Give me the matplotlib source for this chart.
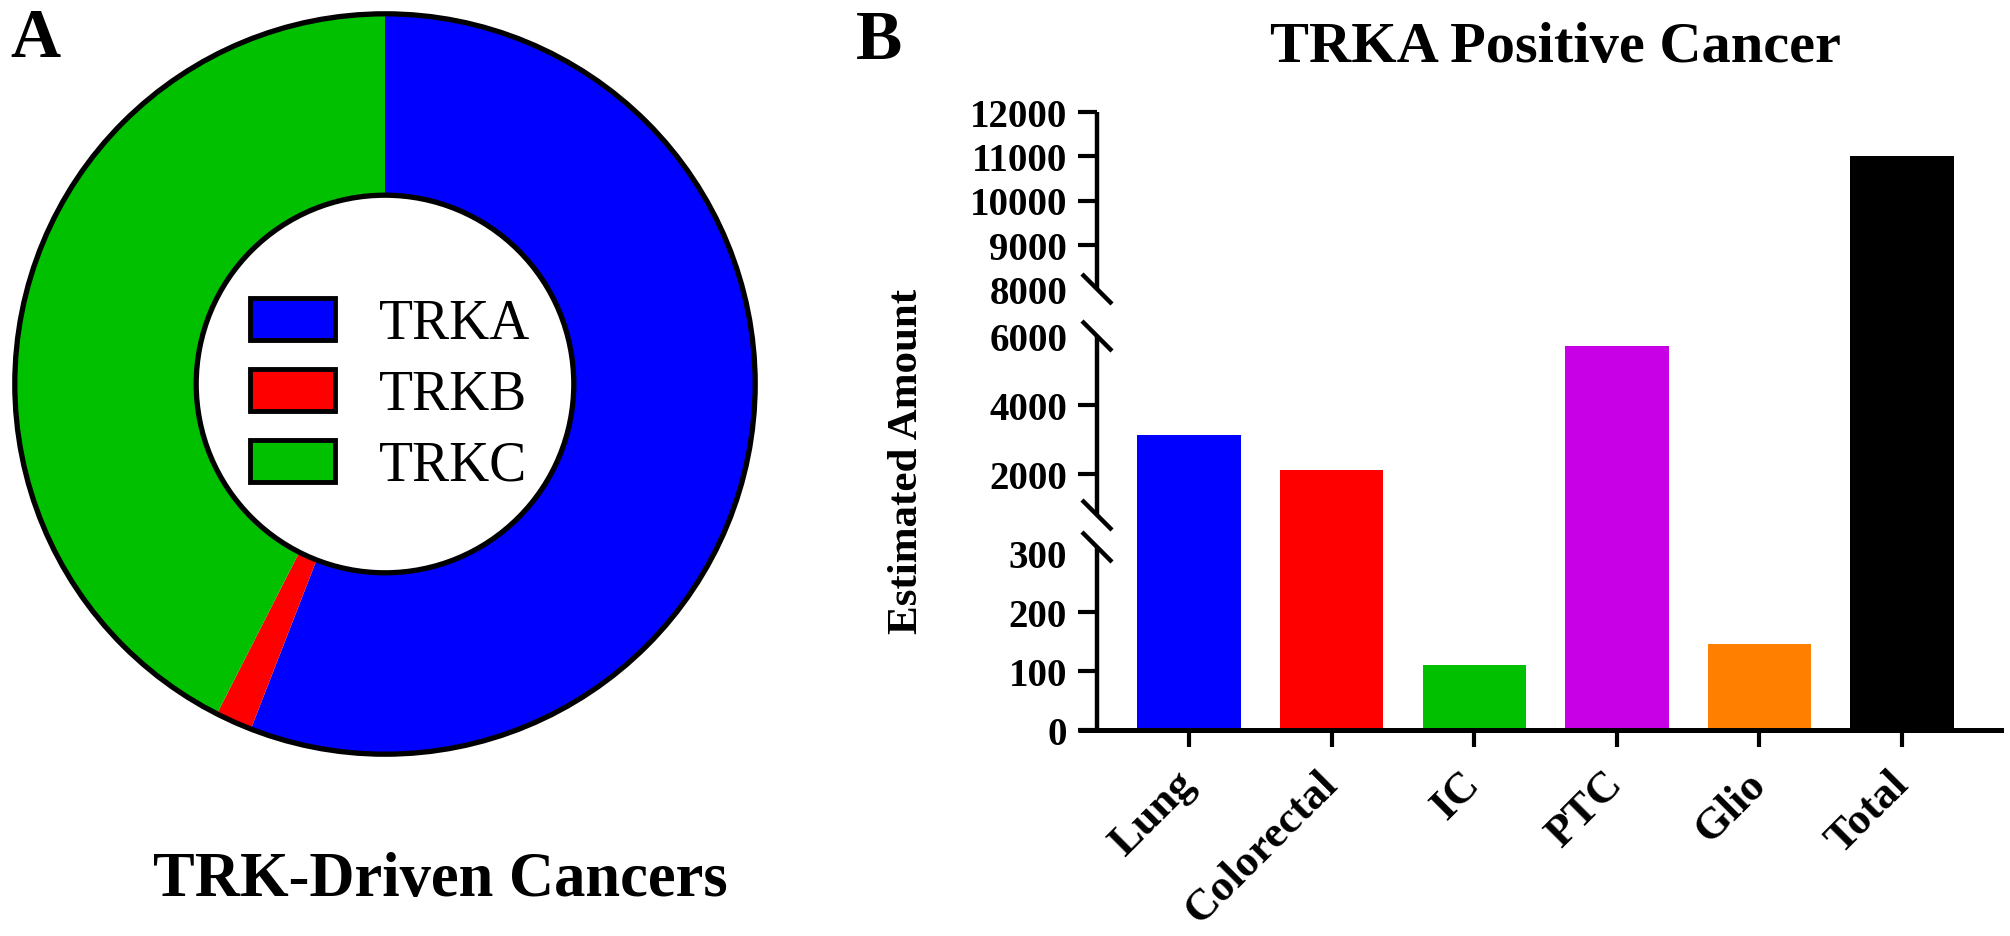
import matplotlib
matplotlib.use("Agg")
import matplotlib.pyplot as plt
from matplotlib.patches import Patch, Circle
import numpy as np

plt.rcParams['font.family'] = ['Liberation Serif', 'DejaVu Serif']
plt.rcParams['font.weight'] = 'bold'

# panel A: share of TRK-driven cancers
trk_labels = ['TRKA', 'TRKB', 'TRKC']
trk_share = [55.9, 1.6, 42.5]
trk_colors = ['#0000ff', '#ff0000', '#00c000']

# panel B: TRKA positive cancer, estimated amount
cancers = ['Lung', 'Colorectal', 'IC', 'PTC', 'Glio', 'Total']
amounts = [3130, 2100, 110, 5700, 145, 11000]
bar_colors = ['#0000ff', '#ff0000', '#00c000', '#c800e6', '#ff8000', '#000000']
yticks = [0, 100, 200, 300, 2000, 4000, 6000, 8000, 9000, 10000, 11000, 12000]

# broken axis: value -> pixels above the x axis (piecewise, with two gaps)
brk_vals = [0, 310, 800, 6000, 8000, 12000]
brk_px = [0, 183, 215, 394, 441, 618]
segments = [(0, 310), (800, 6000), (8000, 12000)]

W, H = 2010, 937
fig = plt.figure(figsize=(W / 100, H / 100), dpi=100)


def box(x0, y0, x1, y1):
    # pixel box (origin top-left) -> figure rect
    return [x0 / W, 1 - y1 / H, (x1 - x0) / W, (y1 - y0) / H]


# ---- A: donut ----
axp = fig.add_axes(box(0, 0, 770, 770))
axp.pie(trk_share, colors=trk_colors, startangle=90, counterclock=False,
        radius=1, wedgeprops=dict(width=0.49, linewidth=0))
axp.add_patch(Circle((0, 0), 1, fill=False, ec='black', lw=3.8))
axp.add_patch(Circle((0, 0), 0.51, fc='white', ec='black', lw=3.8))
axp.set_xlim(-1.04, 1.04)
axp.set_ylim(-1.04, 1.04)
axp.set_aspect('equal')
axp.set_axis_off()
handles = [Patch(facecolor=c, edgecolor='black', linewidth=3.5, label=l)
           for c, l in zip(trk_colors, trk_labels)]
axp.legend(handles=handles, loc='center', bbox_to_anchor=(0.5 + 5 / 770, 0.5 - 11 / 770),
           frameon=False, prop=dict(family='Liberation Serif', weight='normal', size=40),
           handlelength=1.53, handleheight=0.79, handletextpad=0.79,
           labelspacing=0.33, borderpad=0)

fig.text(10 / W, 1 - 8 / H, 'A', fontsize=50, ha='left', va='top')
fig.text(440 / W, 1 - 881 / H, 'TRK-Driven Cancers', fontsize=45, ha='center', va='center')


# ---- B: bar chart with broken y axis ----
def fwd(v):
    return np.interp(v, brk_vals, brk_px)


def inv(p):
    return np.interp(p, brk_px, brk_vals)


x = np.arange(len(cancers))
ax = fig.add_axes(box(1097, 113, 2001, 731))
ax.bar(x, amounts, width=0.725, color=bar_colors, linewidth=0)
ax.set_yscale('function', functions=(fwd, inv))
ax.set_xlim(-0.645, 5.694)
ax.set_ylim(0, 12000)
ax.set_yticks(yticks)
ax.set_yticklabels([str(t) for t in yticks])
ax.yaxis.set_minor_locator(matplotlib.ticker.NullLocator())
ax.tick_params(axis='y', direction='out', length=13.5, width=3, labelsize=28, pad=8)
for tk, val in zip(ax.yaxis.get_major_ticks(), yticks):
    if val in (300, 6000, 8000):
        tk.tick1line.set_visible(False)
for s in ['top', 'right', 'left']:
    ax.spines[s].set_visible(False)
ax.spines['bottom'].set_linewidth(3.6)
ax.patch.set_alpha(0)

# broken left axis line with slash marks at the cuts
ytr = ax.get_yaxis_transform()
hpx = brk_px[-1]
for lo, hi in segments:
    ax.plot([0, 0], [lo, hi], color='black', lw=3.2, transform=ytr,
            clip_on=False, solid_capstyle='butt', zorder=3)
    for v in (lo, hi):
        if v in (0, 12000):
            continue
        yf = fwd(v) / hpx
        ax.plot([-15 / 904, 15 / 904], [yf + 15 / hpx, yf - 15 / hpx], color='black',
                lw=3.2, transform=ax.transAxes, clip_on=False,
                solid_capstyle='butt', zorder=3)
ax.plot([-19 / 904, 0], [0, 0], color='black', lw=3.6, transform=ax.transAxes,
        clip_on=False, solid_capstyle='butt')

ax.set_xticks(x)
ax.set_xticklabels(cancers, rotation=45, ha='right', va='center',
                   rotation_mode='anchor', fontsize=32)
ax.tick_params(axis='x', direction='out', length=12, width=3, pad=22)

fig.text(907 / W, 1 - 461 / H, 'Estimated Amount', fontsize=31, rotation=90,
         ha='center', va='center')
fig.text(856 / W, 1 - 10 / H, 'B', fontsize=50, ha='left', va='top')
fig.text(1555 / W, 1 - 48 / H, 'TRKA Positive Cancer', fontsize=42, ha='center', va='center')

fig.savefig('out.png', dpi=100)
